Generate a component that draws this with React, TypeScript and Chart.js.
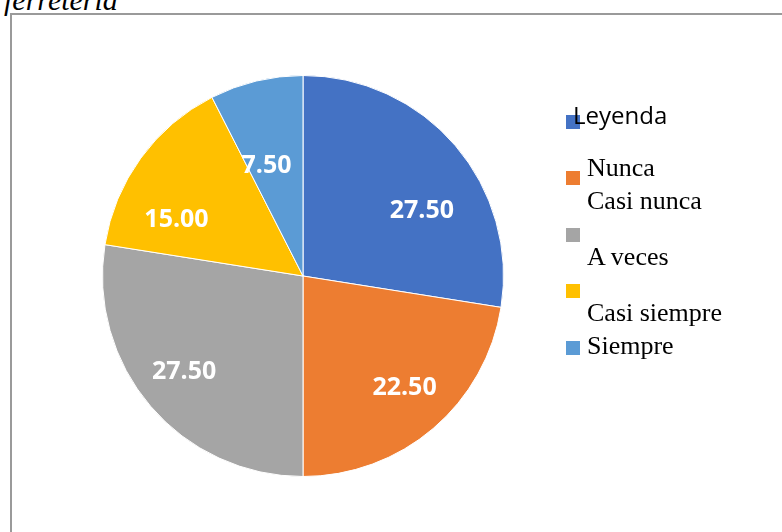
import React, { useEffect, useRef } from "react";
import { Chart, registerables } from "chart.js";

Chart.register(...registerables);

const categories = ["Nunca", "Casi nunca", "A veces", "Casi siempre", "Siempre"];
const values = [27.5, 22.5, 27.5, 15.0, 7.5];
const colors = ["#4472C4", "#ED7D31", "#A5A5A5", "#FFC000", "#5B9BD5"];
const titleText = "ferretería";
const legendTitle = "Leyenda";

const labelPlugin = {
  id: "sliceLabels",
  afterDatasetsDraw(chart: any) {
    const ctx = chart.ctx;
    const meta = chart.getDatasetMeta(0);
    const data = chart.data.datasets[0].data as number[];
    ctx.save();
    ctx.fillStyle = "#ffffff";
    ctx.font = "bold 25px 'Open Sans', sans-serif";
    ctx.textAlign = "center";
    ctx.textBaseline = "middle";
    meta.data.forEach((arc: any, i: number) => {
      const p = arc.getProps(["x", "y", "startAngle", "endAngle", "outerRadius"], true);
      const mid = (p.startAngle + p.endAngle) / 2;
      const r = p.outerRadius * 0.7;
      const horiz = Math.cos(mid);
      const upper = Math.sin(mid) < 0;
      const x = p.x + Math.cos(mid) * r + 16 * horiz;
      const y = p.y + Math.sin(mid) * r + (upper ? 26 : 5);
      ctx.fillText(data[i].toFixed(2), x, y);
    });
    ctx.restore();
  },
};

export default function App() {
  const ref = useRef<HTMLCanvasElement>(null);
  useEffect(() => {
    if (!ref.current) return;
    const chart = new Chart(ref.current, {
      type: "pie",
      data: {
        labels: categories,
        datasets: [
          {
            data: values,
            backgroundColor: colors,
            borderColor: "#ffffff",
            borderWidth: 1,
          },
        ],
      },
      options: {
        responsive: false,
        animation: false,
        layout: { padding: { left: 102, top: 75, right: 278, bottom: 55 } },
        plugins: { legend: { display: false }, tooltip: { enabled: false } },
      },
      plugins: [labelPlugin],
    });
    return () => chart.destroy();
  }, []);

  const serif = "'Liberation Serif', 'Times New Roman', serif";
  const legendRows: { text: string; top: number }[] = [
    { text: categories[0], top: 153 },
    { text: categories[1], top: 186 },
    { text: categories[2], top: 242 },
    { text: categories[3], top: 298 },
    { text: categories[4], top: 331 },
  ];
  const squareTops = [115, 171, 228, 284, 341];

  return (
    <div style={{ position: "fixed", left: 0, top: 0, width: 782, height: 532, background: "#fff", overflow: "hidden" }}>
      <div
        style={{
          position: "absolute",
          left: 10,
          top: 13,
          width: 800,
          height: 600,
          borderLeft: "2px solid #9a9a9a",
          borderTop: "2px solid #9a9a9a",
        }}
      />
      <div
        style={{
          position: "absolute",
          left: 4,
          top: -17,
          fontFamily: serif,
          fontStyle: "italic",
          fontSize: 30,
          lineHeight: "34px",
          color: "#000",
          whiteSpace: "nowrap",
        }}
      >
        {titleText}
      </div>
      <canvas ref={ref} width={782} height={532} style={{ position: "absolute", left: 0, top: 0 }} />
      {squareTops.map((t, i) => (
        <div
          key={"sq" + i}
          style={{ position: "absolute", left: 566, top: t, width: 14, height: 14, background: colors[i] }}
        />
      ))}
      <div
        style={{
          position: "absolute",
          left: 573,
          top: 100,
          fontFamily: "'Open Sans', sans-serif",
          fontSize: 24,
          lineHeight: "30px",
          color: "#000",
          whiteSpace: "nowrap",
        }}
      >
        {legendTitle}
      </div>
      {legendRows.map((r, i) => (
        <div
          key={"lg" + i}
          style={{
            position: "absolute",
            left: 587,
            top: r.top,
            fontFamily: serif,
            fontSize: 26,
            lineHeight: "30px",
            color: "#000",
            whiteSpace: "nowrap",
          }}
        >
          {r.text}
        </div>
      ))}
    </div>
  );
}
